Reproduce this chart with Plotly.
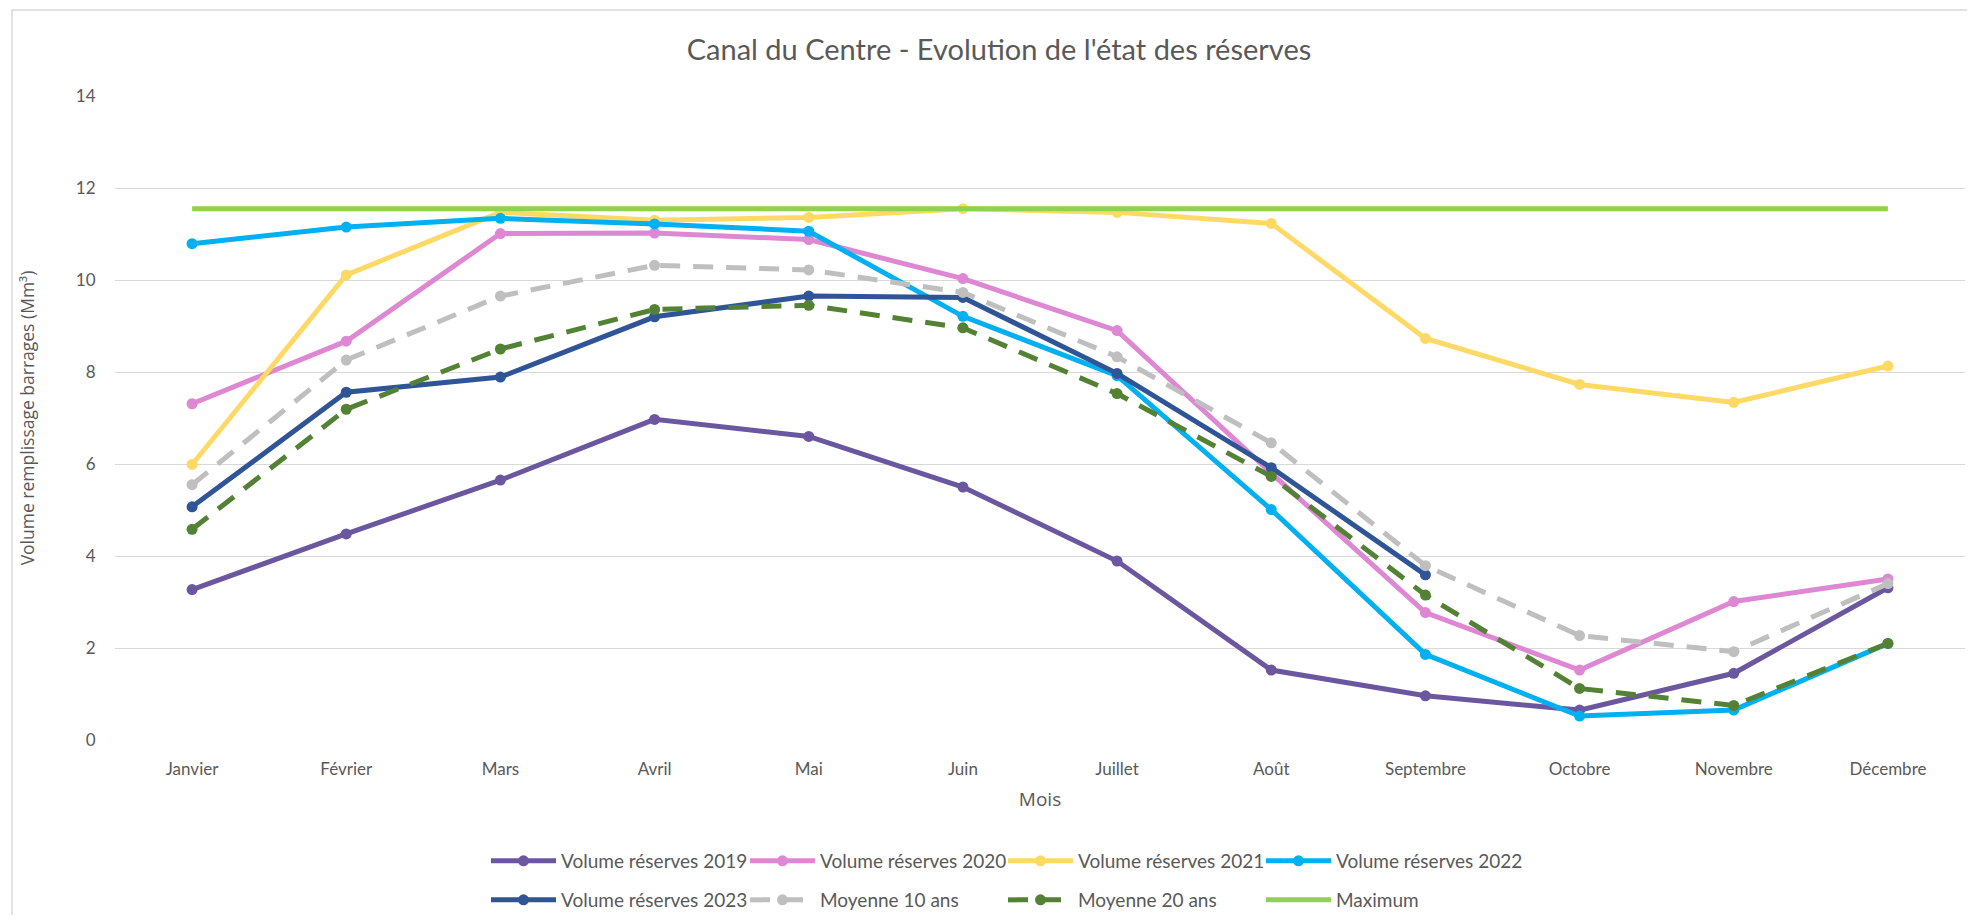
import plotly.graph_objects as go

months = ["Janvier", "Février", "Mars", "Avril", "Mai", "Juin", "Juillet",
          "Août", "Septembre", "Octobre", "Novembre", "Décembre"]

vol_2019 = [3.27, 4.48, 5.65, 6.97, 6.60, 5.50, 3.89, 1.52, 0.96, 0.65, 1.45, 3.31]
vol_2020 = [7.31, 8.67, 11.01, 11.02, 10.88, 10.03, 8.90, 5.80, 2.77, 1.52, 3.01, 3.50]
vol_2021 = [5.99, 10.11, 11.47, 11.30, 11.36, 11.55, 11.47, 11.23, 8.73, 7.73, 7.34, 8.13]
vol_2022 = [10.79, 11.15, 11.34, 11.22, 11.06, 9.21, 7.92, 5.01, 1.86, 0.52, 0.65, 2.10]
vol_2023 = [5.07, 7.56, 7.89, 9.20, 9.65, 9.62, 7.97, 5.92, 3.59, None, None, None]
moy_10 = [5.55, 8.26, 9.65, 10.32, 10.22, 9.73, 8.33, 6.46, 3.79, 2.27, 1.92, 3.40]
moy_20 = [4.58, 7.19, 8.50, 9.36, 9.45, 8.96, 7.53, 5.73, 3.15, 1.12, 0.75, 2.10]
maximum = [11.55] * 12

series = [
    ("Volume réserves 2019", vol_2019, "#6B57A0", "solid", True),
    ("Volume réserves 2020", vol_2020, "#DE88D3", "solid", True),
    ("Volume réserves 2021", vol_2021, "#FFD966", "solid", True),
    ("Volume réserves 2022", vol_2022, "#00B0F0", "solid", True),
    ("Volume réserves 2023", vol_2023, "#2F5597", "solid", True),
    ("Moyenne 10 ans", moy_10, "#BFBFBF", "20px,13px", True),
    ("Moyenne 20 ans", moy_20, "#548235", "20px,13px", True),
    ("Maximum", maximum, "#92D050", "solid", False),
]

# The page body adds an 8px offset; the figure is sized/positioned to compensate.
OFF = 8
W, H = 1959, 907
L, R, T, B = 107, 2, 88, 175
PW, PH = W - L - R, H - T - B


def px_x(X):
    """page x pixel -> paper x"""
    return (X - OFF - L) / PW


def px_y(Y):
    """page y pixel -> paper y"""
    return (H - B - (Y - OFF)) / PH


def cx(X):
    """page x pixel -> container x"""
    return (X - OFF) / W


def cy(Y):
    """page y pixel -> container y"""
    return 1 - (Y - OFF) / H


col_starts = [491, 750, 1008, 1266]
row_centers = [861, 900]

fig = go.Figure()
layout_legends = {}
for i, (name, vals, color, dash, markers) in enumerate(series):
    leg = "legend" if i == 0 else f"legend{i + 1}"
    fig.add_trace(go.Scatter(
        x=months, y=vals, name=name,
        mode="lines+markers" if markers else "lines",
        line=dict(color=color, width=5, dash=dash),
        marker=dict(color=color, size=11),
        legend=leg,
    ))
    layout_legends[leg] = dict(
        x=cx(col_starts[i % 4] - 5), y=cy(row_centers[i // 4]),
        xref="container", yref="container",
        xanchor="left", yanchor="middle", orientation="h",
        font=dict(family="Lato", size=19, color="#595959"),
        bgcolor="rgba(0,0,0,0)", itemwidth=65,
    )

txt = "#595959"
font_ticks = dict(family="Lato", size=17, color=txt)

fig.update_layout(
    width=W, height=H,
    margin=dict(l=L, r=R, t=T, b=B),
    paper_bgcolor="white", plot_bgcolor="white",
    title=dict(text="Canal du Centre - Evolution de l'état des réserves",
               x=cx(999), xanchor="center", xref="container",
               y=cy(50), yanchor="middle", yref="container",
               font=dict(family="Lato", size=29, color=txt)),
    xaxis=dict(
        type="category", range=[-0.5, 11.5], showgrid=False,
        showline=False, zeroline=False, automargin=False,
        ticks="outside", ticklen=14, tickcolor="rgba(0,0,0,0)",
        tickfont=font_ticks,
        title=dict(text="Mois", font=dict(family="Open Sans", size=19, color=txt),
                   standoff=14),
    ),
    yaxis=dict(
        range=[0, 14], dtick=2, showgrid=True, gridcolor="#D9D9D9", gridwidth=1.3,
        zeroline=False, showline=False, automargin=False,
        ticks="outside", ticklen=15, tickcolor="rgba(0,0,0,0)",
        tickfont=font_ticks,
        title=dict(text="Volume remplissage barrages (Mm³)",
                   font=dict(family="Open Sans", size=17.5, color=txt), standoff=36),
    ),
    showlegend=True,
    shapes=[dict(type="rect", xref="paper", yref="paper",
                 x0=px_x(12), x1=1.2, y0=-0.5, y1=px_y(10),
                 line=dict(color="#D9D9D9", width=1.5), fillcolor="rgba(0,0,0,0)",
                 layer="below")],
    **layout_legends,
)

fig.write_html("out.html")
